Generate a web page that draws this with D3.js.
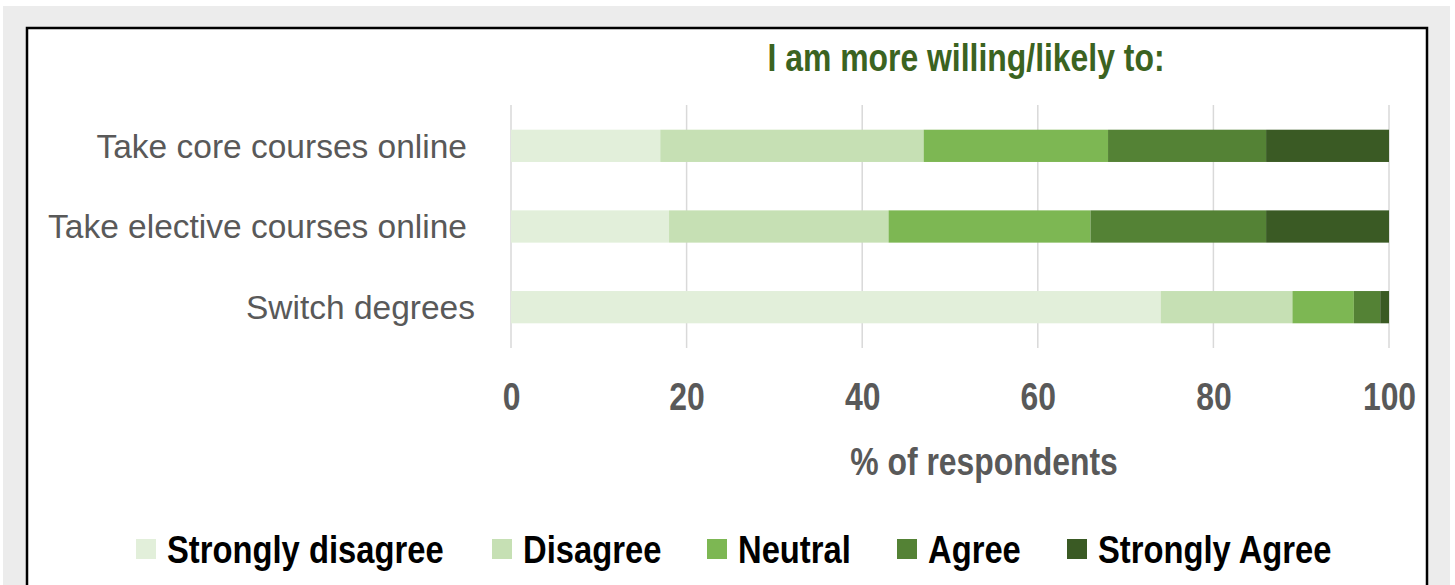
<!DOCTYPE html>
<html>
<head>
<meta charset="utf-8">
<script src="https://cdn.jsdelivr.net/npm/d3@7"></script>
<style>
  body { margin: 0; background: #fff; }
  svg { display: block; }
</style>
</head>
<body>
<div id="chart"></div>
<script>
// data
const categories = ["Take core courses online", "Take elective courses online", "Switch degrees"];
const seriesNames = ["Strongly disagree", "Disagree", "Neutral", "Agree", "Strongly Agree"];
const stronglyDisagree = [17, 18, 74];
const disagree = [30, 25, 15];
const neutral = [21, 23, 7];
const agree = [18, 20, 3];
const stronglyAgree = [14, 14, 1];
const xTicks = [0, 20, 40, 60, 80, 100];
const colors = ["#e2efda", "#c6e0b4", "#7db753", "#548235", "#3a5a24"];

const W = 1455, H = 585;
const boldFont = "'Liberation Sans', Arial, sans-serif";
const squeeze = 0.84; // no narrow font installed, so squeeze bold Arial-like text

const svg = d3.select("#chart").append("svg")
    .attr("width", W)
    .attr("height", H);

// grey frame + white panel
svg.append("rect").attr("x", 3).attr("y", 6).attr("width", 1447).attr("height", H - 6).attr("fill", "#ececec");
svg.append("rect").attr("x", 27).attr("y", 28).attr("width", 1400).attr("height", H)
    .attr("fill", "#fff").attr("stroke", "#000").attr("stroke-width", 2.5);

// build rows for stacking
const rows = categories.map((c, i) => ({
    cat: c,
    "Strongly disagree": stronglyDisagree[i],
    "Disagree": disagree[i],
    "Neutral": neutral[i],
    "Agree": agree[i],
    "Strongly Agree": stronglyAgree[i]
}));
const stacked = d3.stack().keys(seriesNames)(rows);

const x = d3.scaleLinear().domain([0, 100]).range([511, 1389]);
const y = d3.scaleBand().domain(categories).range([105.5, 347.5])
    .paddingInner(0.6).paddingOuter(0.3);
const color = d3.scaleOrdinal().domain(seriesNames).range(colors);

// helper: narrow bold text placed at (tx, ty)
function narrowText(sel, tx, ty, size, fill, anchor) {
    return sel.append("text")
        .attr("transform", `translate(${tx},${ty}) scale(${squeeze},1)`)
        .attr("text-anchor", anchor || "start")
        .attr("font-family", boldFont)
        .attr("font-weight", "bold")
        .attr("font-size", size)
        .attr("fill", fill);
}

// gridlines
svg.append("g").selectAll("line")
    .data(xTicks)
    .enter().append("line")
    .attr("x1", d => x(d)).attr("x2", d => x(d))
    .attr("y1", 105).attr("y2", 348)
    .attr("stroke", "#d9d9d9").attr("stroke-width", 1.5);

// bars
svg.append("g").selectAll("g")
    .data(stacked)
    .enter().append("g")
    .attr("fill", d => color(d.key))
    .selectAll("rect")
    .data(d => d)
    .enter().append("rect")
    .attr("x", d => x(d[0]))
    .attr("y", d => y(d.data.cat))
    .attr("width", d => x(d[1]) - x(d[0]))
    .attr("height", y.bandwidth());

// category labels
svg.append("g").selectAll("text")
    .data(categories)
    .enter().append("text")
    .attr("x", (d, i) => i === 2 ? 475 : 467)
    .attr("y", d => y(d) + y.bandwidth() / 2)
    .attr("dy", "0.35em")
    .attr("text-anchor", "end")
    .attr("font-family", "'Liberation Sans', Arial, sans-serif")
    .attr("font-size", 33.5)
    .attr("fill", "#595959")
    .text(d => d);

// x axis tick labels
const xAxis = d3.axisBottom(x).tickValues(xTicks).tickSize(0).tickPadding(0);
const ax = svg.append("g").attr("transform", "translate(0,383)").call(xAxis);
ax.select(".domain").remove();
ax.selectAll("text")
    .attr("transform", `scale(${squeeze},1)`)
    .attr("font-family", boldFont)
    .attr("font-weight", "bold")
    .attr("font-size", 38)
    .attr("fill", "#595959");

// axis title
narrowText(svg, 984, 475, 38, "#595959", "middle").text("% of respondents");

// chart title
narrowText(svg, 966, 71, 38, "#3b6321", "middle").text("I am more willing/likely to:");

// legend
const legendX = [136, 492, 707, 897, 1067];
const legend = svg.append("g").selectAll("g")
    .data(seriesNames)
    .enter().append("g")
    .attr("transform", (d, i) => `translate(${legendX[i]},549)`);
legend.append("rect")
    .attr("x", 0).attr("y", -10).attr("width", 20).attr("height", 20)
    .attr("fill", d => color(d));
legend.each(function(d) {
    narrowText(d3.select(this), 31, 0, 39, "#000").attr("dy", "0.35em").text(d);
});
</script>
</body>
</html>
